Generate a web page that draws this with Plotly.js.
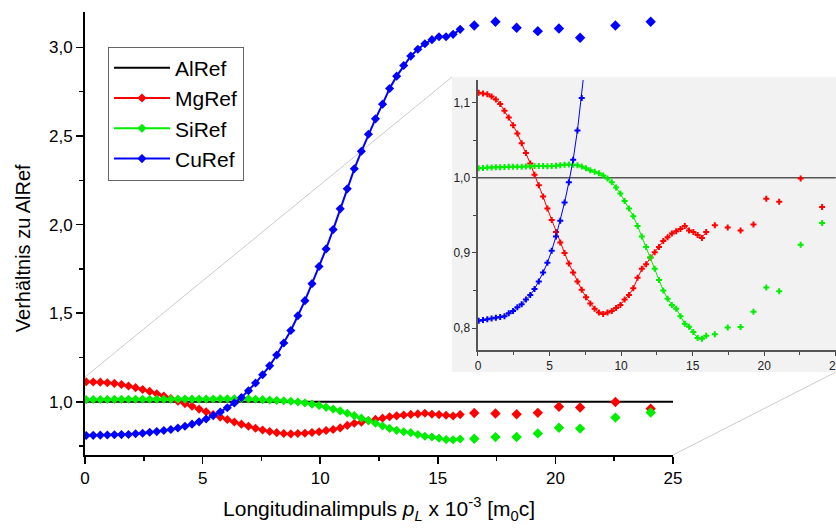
<!DOCTYPE html>
<html>
<head>
<meta charset="utf-8">
<script src="https://cdn.plot.ly/plotly-3.0.1.min.js"></script>
<style>html,body{margin:0;padding:0;background:#fff;}#chart{width:836px;height:528px;}</style>
</head>
<body>
<div id="chart"></div>
<script>
// ---- data ----
const xDense = [0.05,0.35,0.65,0.95,1.25,1.55,1.85,2.15,2.45,2.75,
  3.05,3.35,3.65,3.95,4.25,4.55,4.85,5.15,5.45,5.75,
  6.05,6.35,6.65,6.95,7.25,7.55,7.85,8.15,8.45,8.75,
  9.05,9.35,9.65,9.95,10.25,10.55,10.85,11.15,11.45,11.75,
  12.05,12.35,12.65,12.95,13.25,13.55,13.85,14.15,14.45,14.75,
  15.05,15.35,15.65,15.95];
const xSparse = [16.55,17.45,18.35,19.25,20.15,21.05,22.55,24.05];

const alX = [0, 25];
const alY = [1, 1];

const mgDense = [1.113,1.112,1.111,1.108,1.104,1.098,1.089,1.080,1.070,1.059,
  1.046,1.033,1.019,1.004,0.990,0.975,0.959,0.944,0.928,0.914,
  0.900,0.886,0.874,0.862,0.851,0.841,
  0.833,0.826,0.821,0.819,0.821,0.823,0.827,0.831,0.838,0.844,
  0.853,0.867,0.879,0.885,0.894,0.901,0.908,0.916,0.921,0.926,
  0.929,0.932,0.936,0.930,0.928,0.924,0.920,0.928];
const mgSparse = [0.937,0.934,0.930,0.938,0.972,0.968,0.999,0.961];

const siDense = [1.0125,1.013,1.0135,1.0138,1.014,1.014,1.0143,1.0145,1.0145,1.0147,
  1.0148,1.015,1.015,1.0155,1.0155,1.0155,1.0153,1.0155,1.016,1.0168,
  1.0172,1.0175,1.0172,1.0165,1.015,1.0125,
  1.010,1.008,1.006,1.003,0.999,0.994,0.987,0.979,0.969,0.959,
  0.949,0.936,0.922,0.908,0.894,0.879,0.864,0.850,0.839,0.831,
  0.826,0.816,0.806,0.802,0.795,0.787,0.786,0.790];
const siSparse = [0.792,0.801,0.8015,0.822,0.854,0.849,0.911,0.940];

const cuDense = [0.810,0.811,0.812,0.813,0.814,0.815,0.816,0.820,0.823,0.828,
  0.832,0.838,0.844,0.852,0.862,0.874,0.887,0.903,0.922,0.943,
  0.967,0.994,1.024,1.063,1.106,
  1.153,1.203,1.264,1.332,1.403,1.486,1.571,1.667,1.764,1.863,
  1.972,2.089,2.202,2.315,2.414,2.510,2.597,2.680,2.768,2.838,
  2.898,2.951,2.990,3.021,3.044,3.060,3.060,3.074,3.102];
const cuSparse = [3.124,3.145,3.111,3.092,3.107,3.055,3.124,3.145];

const colors = {AlRef:'#000000', MgRef:'#ff0000', SiRef:'#00ee00', CuRef:'#0000ff'};

const series = [
  {name:'MgRef', dense:mgDense, sparse:mgSparse},
  {name:'SiRef', dense:siDense, sparse:siSparse},
  {name:'CuRef', dense:cuDense, sparse:cuSparse}
];

const traces = [];
// main plot
traces.push({x:alX, y:alY, name:'AlRef', mode:'lines', line:{color:colors.AlRef, width:2},
  xaxis:'x', yaxis:'y', hoverinfo:'skip'});
series.forEach(s => {
  traces.push({x:xDense, y:s.dense, name:s.name, mode:'lines+markers',
    line:{color:colors[s.name], width:2}, marker:{symbol:'diamond', size:7, color:colors[s.name]},
    xaxis:'x', yaxis:'y'});
});
series.forEach(s => {
  traces.push({x:xSparse, y:s.sparse, name:s.name, mode:'markers', showlegend:false,
    marker:{symbol:'diamond', size:8, color:colors[s.name]}, xaxis:'x', yaxis:'y'});
});
// inset
traces.push({x:alX, y:alY, name:'AlRef', mode:'lines', showlegend:false,
  line:{color:'#555555', width:1.5}, xaxis:'x2', yaxis:'y2'});
series.forEach(s => {
  traces.push({x:xDense, y:s.dense, name:s.name, mode:'lines+markers', showlegend:false,
    line:{color:colors[s.name], width:1}, marker:{symbol:'cross', size:5, color:colors[s.name]},
    xaxis:'x2', yaxis:'y2'});
  traces.push({x:xSparse, y:s.sparse, name:s.name, mode:'markers', showlegend:false,
    marker:{symbol:'cross', size:5, color:colors[s.name]}, xaxis:'x2', yaxis:'y2'});
});

const FONT = 'Liberation Sans, Arial, sans-serif';
const layout = {
  width:836, height:528,
  margin:{l:85, r:0, t:12, b:73},
  paper_bgcolor:'#ffffff', plot_bgcolor:'rgba(0,0,0,0)',
  separators:',.',
  font:{family:FONT, color:'#000'},
  showlegend:true,
  legend:{x:0.0306, y:0.922, xanchor:'left', yanchor:'top', bgcolor:'#ffffff',
    bordercolor:'#666666', borderwidth:1, font:{size:21, family:FONT}, itemwidth:56,
    traceorder:'normal'},
  xaxis:{domain:[0,0.783], range:[0,25], anchor:'y', tick0:0, dtick:5,
    ticks:'outside', ticklen:7, tickwidth:1.5, tickcolor:'#000',
    minor:{dtick:2.5, ticks:'outside', ticklen:4, tickwidth:1.5, tickcolor:'#000'},
    showline:true, linewidth:2, linecolor:'#000', showgrid:false, zeroline:false,
    tickfont:{size:17},
    title:{text:'Longitudinalimpuls <i>p<sub>L</sub></i> x 10<sup>-3</sup> [m<sub>0</sub>c]', font:{size:21}, standoff:14}},
  yaxis:{domain:[0,1], range:[0.7,3.2], anchor:'x', tick0:0, dtick:0.5, tickformat:'.1f',
    ticks:'outside', ticklen:7, tickwidth:1.5, tickcolor:'#000',
    minor:{dtick:0.25, ticks:'outside', ticklen:4, tickwidth:1.5, tickcolor:'#000'},
    showline:true, linewidth:2, linecolor:'#000', showgrid:false, zeroline:false,
    tickfont:{size:17}},
  xaxis2:{domain:[0.5233,1], range:[0,25.02], anchor:'y2', tick0:0, dtick:5,
    ticks:'outside', ticklen:4, tickwidth:1, tickcolor:'#444', ticklabeloverflow:'allow',
    minor:{dtick:2.5, ticks:'outside', ticklen:3, tickwidth:1, tickcolor:'#444'},
    showline:true, linewidth:1.5, linecolor:'#555', showgrid:false, zeroline:false,
    tickfont:{size:12, color:'#222'}},
  yaxis2:{domain:[0.237,0.8465], range:[0.771,1.13], anchor:'x2', tick0:0, dtick:0.1, tickformat:'.1f',
    ticks:'outside', ticklen:4, tickwidth:1, tickcolor:'#444',
    minor:{dtick:0.05, ticks:'outside', ticklen:3, tickwidth:1, tickcolor:'#444'},
    showline:true, linewidth:1.5, linecolor:'#555', showgrid:false, zeroline:false,
    tickfont:{size:12, color:'#222'}},
  annotations:[
    {text:'Verhältnis zu AlRef', xref:'paper', yref:'paper', x:-0.083, y:0.466,
      xanchor:'center', yanchor:'middle', textangle:-90, showarrow:false, font:{size:20}}
  ],
  shapes:[
    {type:'rect', xref:'paper', yref:'paper', x0:0.4887, x1:1.0, y0:0.1874, y1:0.8533,
      fillcolor:'#f2f2f2', line:{width:0}, layer:'below'},
    {type:'line', xref:'paper', yref:'paper', x0:0, y0:0.176, x1:0.4887, y1:0.8533,
      line:{color:'#cccccc', width:1}, layer:'below'},
    {type:'line', xref:'paper', yref:'paper', x0:0.783, y0:0, x1:1.0, y1:0.1874,
      line:{color:'#cccccc', width:1}, layer:'below'}
  ]
};

Plotly.newPlot('chart', traces, layout, {displayModeBar:false, staticPlot:true});
</script>
</body>
</html>
